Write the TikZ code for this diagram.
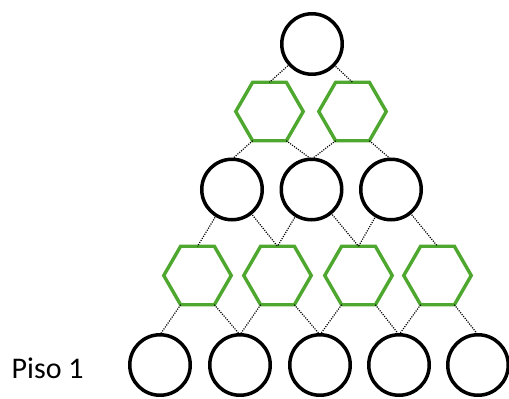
\documentclass[tikz,border=0pt]{standalone}
\usepackage{fontspec}
\setmainfont{Carlito}
\usetikzlibrary{shapes.geometric}
\definecolor{hexgreen}{HTML}{4EA72E}
\tikzset{
  ring/.style={circle, draw=black, line width=3.5pt, minimum size=60.5pt, inner sep=0pt, outer sep=0pt},
  hexa/.style={regular polygon, regular polygon sides=6, draw=hexgreen, line width=3.4pt, minimum size=67.5pt, inner sep=0pt, outer sep=0pt},
  link/.style={black, line width=1.2pt, dash pattern=on 1.1pt off 1.3pt},
  label/.style={font=\fontsize{30}{36}\selectfont, anchor=base west, inner sep=0pt}
}
\begin{document}
\begin{tikzpicture}[x=1pt, y=-1pt]
\useasboundingbox (0,0) rectangle (509,399);
% top
\node[ring] (T) at (312,44) {};
% hex row 1
\node[hexa] (A1) at (269.5,111.5) {};
\node[hexa] (A2) at (352.5,111.5) {};
% circle row 2
\node[ring] (C1) at (232,189.5) {};
\node[ring] (C2) at (311.5,189.5) {};
\node[ring] (C3) at (391,189.5) {};
% hex row 2
\node[hexa] (H1) at (197.5,275.5) {};
\node[hexa] (H2) at (277.5,275.5) {};
\node[hexa] (H3) at (358.5,275.5) {};
\node[hexa] (H4) at (437.5,275.5) {};
% bottom circles
\node[ring] (B1) at (160,365) {};
\node[ring] (B2) at (240,365) {};
\node[ring] (B3) at (320,365) {};
\node[ring] (B4) at (399,365) {};
\node[ring] (B5) at (478,365) {};
% label
\node[label] (piso) at (11.5,378) {Piso 1};
% connectors
\draw[link] (T) -- (A1.north);
\draw[link] (T) -- (A2.north);
\draw[link] (A1.240) -- (C1.north);
\draw[link] (A1.300) -- (C2.north);
\draw[link] (A2.240) -- (C2.north);
\draw[link] (A2.300) -- (C3.north);
\draw[link] (C1) -- (H1.north);
\draw[link] (C1) -- (H2.north);
\draw[link] (C2) -- (H2.north);
\draw[link] (C2) -- (H3.north);
\draw[link] (C3) -- (H3.north);
\draw[link] (C3) -- (H4.north);
\draw[link] (H1.240) -- (B1.north);
\draw[link] (H1.300) -- (B2.north);
\draw[link] (H2.240) -- (B2.north);
\draw[link] (H2.300) -- (B3.north);
\draw[link] (H3.240) -- (B3.north);
\draw[link] (H3.300) -- (B4.north);
\draw[link] (H4.240) -- (B4.north);
\draw[link] (H4.300) -- (B5.north);
\end{tikzpicture}
\end{document}
